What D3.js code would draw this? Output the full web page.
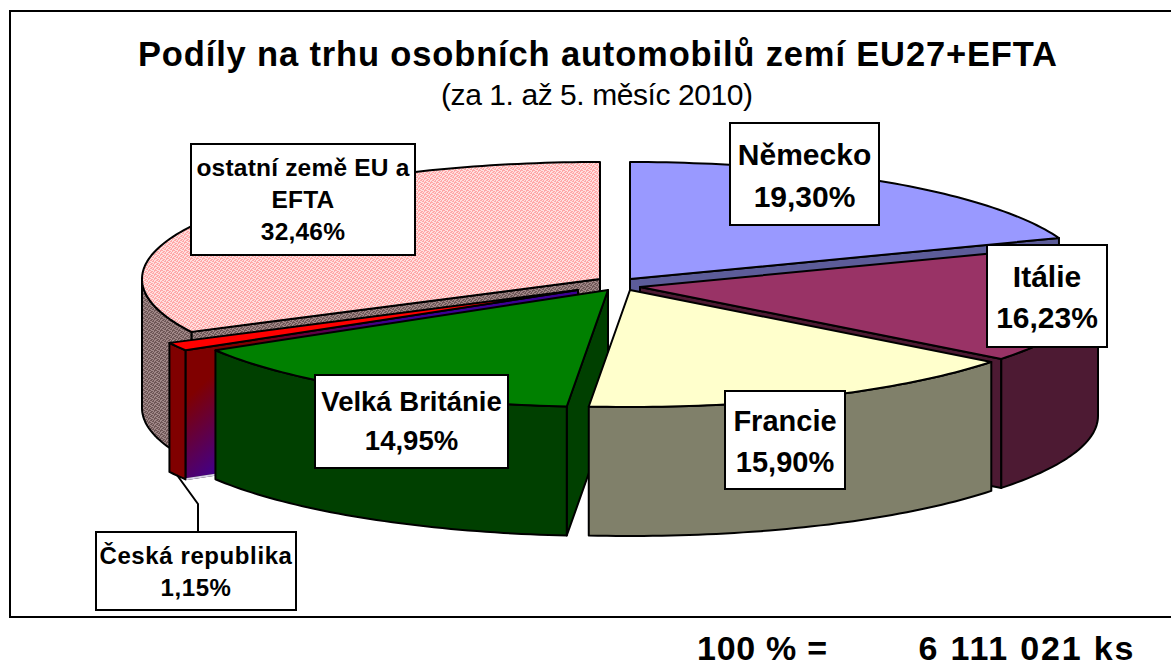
<!DOCTYPE html>
<html lang="cs">
<head>
<meta charset="utf-8">
<title>Podíly na trhu osobních automobilů</title>
<script src="https://cdn.jsdelivr.net/npm/d3@7"></script>
<style>
    html, body { margin: 0; padding: 0; background: #fff; overflow: hidden; }
    svg { display: block; }
    text { font-family: "Liberation Sans", Arial, sans-serif; fill: #000; text-anchor: middle; }
</style>
</head>
<body>
<svg id="chart_svg"></svg>
<script>
const width = 1171;
const height = 663;

const countries = ['Německo', 'Itálie', 'Francie', 'Velká Británie', 'Česká republika', 'ostatní země EU a EFTA'];
const shares = [19.30, 16.23, 15.90, 14.95, 1.15, 32.46];
const share_labels = ['19,30%', '16,23%', '15,90%', '14,95%', '1,15%', '32,46%'];
const title = 'Podíly na trhu osobních automobilů zemí EU27+EFTA';
const subtitle = '(za 1. až 5. měsíc 2010)';
const total_label = '100 % =';
const total_value = '6 111 021 ks';

// Pie geometry
const center = {x: 612, y: 283};
const rx = 458;
const ry = 117;
const depth = 129;
const explode_x = [18, 28, 18, -4, -34, -12];
const explode_y = [-4, 4, 7, 7, 7, -4];

const top_fill = ['#9999ff', '#993366', '#ffffcc', '#008000', '#ff0000', 'url(#pink_dither)'];
const side_fill = ['#5c5c99', '#4d1a33', '#80806a', '#004000', '#800000', 'url(#brown_dither)'];
const face_fill = ['#5c5c99', '#4d1a33', '#80806a', '#004000', 'url(#cz_gradient)', 'url(#brown_dither)'];

// back to front
const draw_order = [5, 0, 1, 4, 3, 2];

// Label boxes: left, top, right, bottom, font size, letter spacing, baselines
const label_boxes = [
    {x0: 730, y0: 123, x1: 879, y1: 225, size: 30, spacing: 0, lines: ['Německo'], base: [165, 207]},
    {x0: 987, y0: 245, x1: 1107, y1: 347, size: 30, spacing: 0, lines: ['Itálie'], base: [287, 328]},
    {x0: 725, y0: 391, x1: 845, y1: 489, size: 29, spacing: 0, lines: ['Francie'], base: [431, 472]},
    {x0: 315, y0: 375, x1: 508, y1: 468, size: 27.5, spacing: 0, lines: ['Velká Británie'], base: [411, 450]},
    {x0: 96, y0: 532, x1: 296, y1: 610, size: 24, spacing: 0.6, lines: ['Česká republika'], base: [564, 596]},
    {x0: 191, y0: 144, x1: 415, y1: 255, size: 24.5, spacing: 0.2, lines: ['ostatní země EU a', 'EFTA'], base: [176, 208, 240]}
];

const svg = d3.select('#chart_svg')
    .attr('width', width)
    .attr('height', height);

const defs = svg.append('defs');

// Small dither tiles, like the printed fill of the original
function addDither(id, dark, light) {
    const tile = defs.append('pattern')
        .attr('id', id)
        .attr('patternUnits', 'userSpaceOnUse')
        .attr('width', 6)
        .attr('height', 4);
    tile.append('rect')
        .attr('width', 6)
        .attr('height', 4)
        .attr('fill', light);
    [[0, 0], [1, 0], [3, 0], [5, 1], [2, 1], [3, 1], [0, 2], [4, 2], [5, 2], [1, 3], [2, 3], [4, 3]].forEach(p => {
        tile.append('rect')
            .attr('x', p[0])
            .attr('y', p[1])
            .attr('width', 1)
            .attr('height', 1)
            .attr('fill', dark)
            .attr('shape-rendering', 'crispEdges');
    });
}
addDither('pink_dither', '#ffa8a8', '#ffe0e0');
addDither('brown_dither', '#6e5656', '#a08888');

const gradient = defs.append('linearGradient')
    .attr('id', 'cz_gradient')
    .attr('gradientUnits', 'userSpaceOnUse')
    .attr('x1', 185).attr('y1', 400)
    .attr('x2', 240).attr('y2', 460);
gradient.append('stop').attr('offset', 0).attr('stop-color', '#800000');
gradient.append('stop').attr('offset', 1).attr('stop-color', '#3c0096');

const pie = d3.pie().sort(null).value(d => d);
const slices = pie(shares);

function apexOf(i) {
    return [center.x + explode_x[i], center.y + explode_y[i]];
}

function project(i, angle, z) {
    const apex = apexOf(i);
    return [apex[0] + rx * Math.sin(angle), apex[1] - ry * Math.cos(angle) + z];
}

function arcPoints(i, a0, a1, z) {
    const steps = Math.max(2, Math.ceil((a1 - a0) / 0.02));
    return d3.range(steps + 1).map(k => project(i, a0 + (a1 - a0) * k / steps, z));
}

const line = d3.line();

function radialFace(i, angle) {
    const apex = apexOf(i);
    return line([apex, project(i, angle, 0), project(i, angle, depth), [apex[0], apex[1] + depth]]) + 'Z';
}

// Frame
svg.append('rect')
    .attr('x', 10)
    .attr('y', 11)
    .attr('width', width + 20)
    .attr('height', 606)
    .attr('fill', '#fff')
    .attr('stroke', '#000')
    .attr('stroke-width', 2);

const pie_group = svg.append('g')
    .attr('stroke', '#000')
    .attr('stroke-width', 2)
    .attr('stroke-linejoin', 'round');

draw_order.forEach(i => {
    const s = slices[i];
    const group = pie_group.append('g').attr('class', 'slice');

    // Radial wall, only when it faces the viewer
    if (s.endAngle < Math.PI) {
        group.append('path').attr('d', radialFace(i, s.endAngle)).attr('fill', face_fill[i]);
    }
    if (s.startAngle > Math.PI) {
        group.append('path').attr('d', radialFace(i, s.startAngle)).attr('fill', face_fill[i]);
    }

    // The gradient wall of the small slice has a pale lower edge
    if (face_fill[i] === 'url(#cz_gradient)') {
        group.append('path')
            .attr('d', line([project(i, s.startAngle, depth), [apexOf(i)[0], apexOf(i)[1] + depth]]))
            .attr('stroke', '#d8d0e8');
    }

    // Outer wall, the front half of the rim
    const a0 = Math.max(s.startAngle, Math.PI / 2);
    const a1 = Math.min(s.endAngle, Math.PI * 3 / 2);
    if (a1 > a0) {
        const rim = arcPoints(i, a0, a1, 0).concat(arcPoints(i, a0, a1, depth).reverse());
        group.append('path').attr('d', line(rim) + 'Z').attr('fill', side_fill[i]);
    }

    // Top
    const top = [apexOf(i)].concat(arcPoints(i, s.startAngle, s.endAngle, 0));
    group.append('path').attr('d', line(top) + 'Z').attr('fill', top_fill[i]);
});

// Leader line of the small slice
svg.append('path')
    .attr('d', line([[177, 475], [198, 504], [198, 532]]))
    .attr('fill', 'none')
    .attr('stroke', '#000')
    .attr('stroke-width', 2);

// Data labels
label_boxes.forEach((b, i) => {
    const group = svg.append('g').attr('class', 'label');
    group.append('rect')
        .attr('x', b.x0)
        .attr('y', b.y0)
        .attr('width', b.x1 - b.x0)
        .attr('height', b.y1 - b.y0)
        .attr('fill', '#fff')
        .attr('stroke', '#000')
        .attr('stroke-width', 2);
    b.lines.concat([share_labels[i]]).forEach((txt, k) => {
        group.append('text')
            .attr('x', (b.x0 + b.x1) / 2)
            .attr('y', b.base[k])
            .attr('font-size', b.size)
            .attr('font-weight', 'bold')
            .attr('letter-spacing', b.spacing)
            .text(txt);
    });
});

// Titles
svg.append('text')
    .attr('x', 597.5)
    .attr('y', 66)
    .attr('font-size', 34.5)
    .attr('font-weight', 'bold')
    .attr('textLength', 919)
    .text(title);

svg.append('text')
    .attr('x', 597)
    .attr('y', 105)
    .attr('font-size', 30)
    .attr('textLength', 312)
    .text(subtitle);

// Total under the frame
svg.append('text')
    .attr('x', 762)
    .attr('y', 660)
    .attr('font-size', 34)
    .attr('font-weight', 'bold')
    .attr('textLength', 130)
    .text(total_label);

svg.append('text')
    .attr('x', 1026)
    .attr('y', 660)
    .attr('font-size', 34)
    .attr('font-weight', 'bold')
    .attr('textLength', 215)
    .text(total_value);
</script>
</body>
</html>
